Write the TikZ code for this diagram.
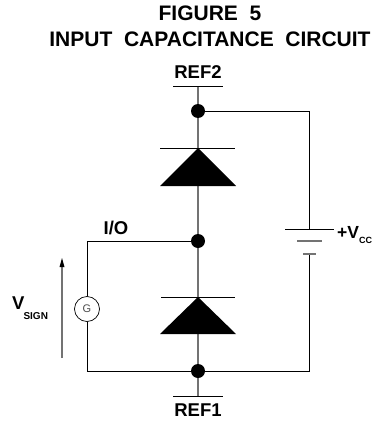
\documentclass[tikz,border=0pt]{standalone}
\usepackage{fontspec}
\setmainfont{Liberation Sans}
\usepackage{xcolor}
\begin{document}
\begin{tikzpicture}[x=1pt,y=-1pt,
		wire/.style={line width=0.8pt,black},
		feed/.style={line width=1.1pt,black!55},
		dot/.style={circle,fill=black,inner sep=0pt,minimum size=14pt},
		title/.style={font=\bfseries\fontsize{21}{21}\selectfont,inner sep=0pt,anchor=base},
		label/.style={font=\bfseries\fontsize{18.5}{18.5}\selectfont,inner sep=0pt,anchor=base},
		source/.style={circle,draw,line width=0.7pt,fill=white,minimum size=25pt,inner sep=0pt,text=black!70,font=\fontsize{11}{11}\selectfont}]
		\useasboundingbox (0,0) rectangle (373,423);

		\node[title] (fig) at (210,20) {FIGURE\ \ 5};
		\node[title] (cct) at (210,46) {INPUT\ \ CAPACITANCE\ \ CIRCUIT};

		\coordinate (reftop) at (198,86);
		\coordinate (refbot) at (198,396);
		\coordinate (iocorner) at (87,241);
		\coordinate (botcorner) at (87,371);
		\coordinate (topright) at (309,111);
		\coordinate (botright) at (309,371);
		\coordinate (platea) at (309,229);
		\coordinate (plateb) at (309,254);
		\draw[feed] (reftop) -- (refbot);
		\node[dot] (top) at (198,111) {};
		\node[dot] (io) at (198,241) {};
		\node[dot] (bot) at (198,371) {};
		\node[source] (gen) at (87,309) {G};

		\draw[wire] (173,86) -- (223,86);
		\draw[wire] (173,396) -- (223,396);
		\draw[wire] (top) -- (topright) -- (platea);
		\draw[wire] (plateb) -- (botright) -- (bot);
		\draw[wire] (io) -- (iocorner) -- (gen);
		\draw[wire] (gen) -- (botcorner) -- (bot);

		\draw[wire] (285,229) -- (334,229);
		\draw[feed] (297,241) -- (322,241);
		\draw[feed] (303,254) -- (316,254);

		% diodes
		\fill (198,148) -- (236,186) -- (160,186) -- cycle;
		\draw[wire] (160,148) -- (235,148);
		\fill (198,297) -- (236,334) -- (160,334) -- cycle;
		\draw[wire] (161,297) -- (235,297);

		\coordinate (arrowa) at (62,358);
		\coordinate (arrowb) at (62,264);
		\coordinate (arrowc) at (62,258);
		\draw[feed] (arrowa) -- (arrowb);
		\fill (arrowc) -- (64.5,267) -- (59.5,267) -- cycle;

		\node[label] (ref2) at (198,78) {REF2};
		\node[label] (ref1) at (198,416) {REF1};
		\node[label] (iolabel) at (116,234) {I/O};
		\node[label,anchor=base west] (vcc) at (337,238) {\fontsize{17.5}{17.5}\selectfont +V\raisebox{-5pt}{\fontsize{9}{9}\selectfont CC}};
		\node[label,anchor=base west] (vsign) at (12,309) {V\raisebox{-10pt}{\hspace{-1pt}\fontsize{10}{10}\selectfont SIGN}};
\end{tikzpicture}
\end{document}
